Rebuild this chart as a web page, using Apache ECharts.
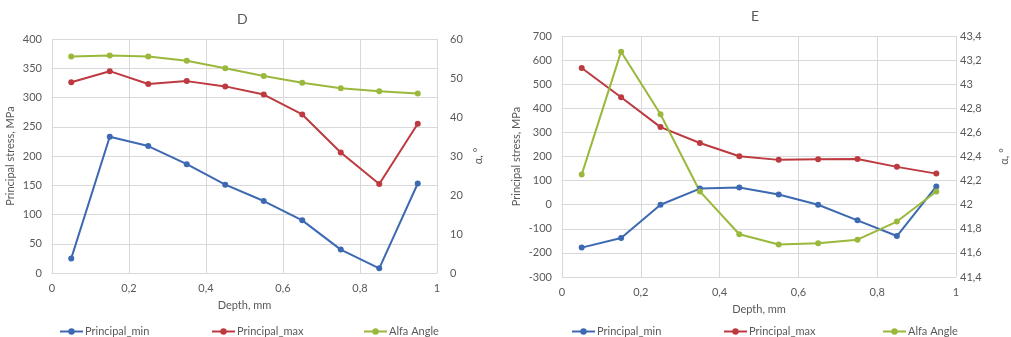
<!DOCTYPE html>
<html>
<head>
<meta charset="utf-8">
<script src="https://cdn.jsdelivr.net/npm/echarts@6/dist/echarts.min.js"></script>
<style>
  html, body { margin: 0; padding: 0; background: #fff; }
  #chart { width: 1011px; height: 337px; }
</style>
</head>
<body>
<div id="chart"></div>
<script>
// Depth positions of the measurement points, mm
const depth = [0.05, 0.15, 0.25, 0.35, 0.45, 0.55, 0.65, 0.75, 0.85, 0.95];

// Sample D
const dMin  = [25, 233, 217, 186, 151, 123, 90, 40, 8, 153];
const dMax  = [326, 345, 323, 328, 319, 305, 271, 206, 152, 255];
const dAlfa = [55.5, 55.8, 55.5, 54.4, 52.5, 50.5, 48.8, 47.4, 46.6, 46.0];

// Sample E
const eMin  = [-178, -138, 0, 67, 71, 42, 0, -65, -130, 76];
const eMax  = [567, 446, 322, 256, 201, 186, 189, 190, 157, 129];
const eAlfa = [42.25, 43.27, 42.75, 42.11, 41.755, 41.67, 41.68, 41.71, 41.86, 42.11];

// Axis ranges: [min, max, interval]
const depthRange  = [0, 1, 0.2];
const dStressRange = [0, 400, 50];
const dAngleRange  = [0, 60, 10];
const eStressRange = [-300, 700, 100];
const eAngleRange  = [41.4, 43.4, 0.2];

const seriesNames = ['Principal_min', 'Principal_max', 'Alfa Angle'];
const colors = ['#3C69B2', '#BC3A40', '#9AB83C'];

const FONT = 'Lato, "Open Sans", sans-serif';
const TXT = '#595959';
const GRID = '#D9D9D9';

const comma = v => String(Math.round(v * 1000) / 1000).replace('.', ',');
const pairs = vals => vals.map((v, i) => [depth[i], v]);

function xAxis(gridIndex) {
  return {
    type: 'value', gridIndex,
    min: depthRange[0], max: depthRange[1], interval: depthRange[2],
    name: 'Depth, mm', nameLocation: 'middle', nameGap: 27,
    nameTextStyle: { color: TXT, fontSize: 11, fontFamily: FONT },
    axisLine: { show: true, lineStyle: { color: GRID } },
    axisTick: { show: false },
    axisLabel: { color: TXT, fontSize: 11, fontFamily: FONT, margin: 10, formatter: comma },
    splitLine: { show: true, lineStyle: { color: GRID, width: 1 } }
  };
}

function yAxis(gridIndex, range, opts) {
  return Object.assign({
    type: 'value', gridIndex,
    min: range[0], max: range[1], interval: range[2],
    nameLocation: 'middle', nameRotate: 90,
    nameTextStyle: { color: TXT, fontSize: 11, fontFamily: FONT },
    axisLine: { show: false },
    axisTick: { show: false },
    axisLabel: { color: TXT, fontSize: 11, fontFamily: FONT, formatter: comma },
    splitLine: { show: false }
  }, opts);
}

function line(name, data, xi, yi) {
  const c = colors[seriesNames.indexOf(name)];
  return {
    type: 'line', name, data: pairs(data),
    xAxisIndex: xi, yAxisIndex: yi,
    symbol: 'circle', symbolSize: 6,
    lineStyle: { color: c, width: 2 },
    itemStyle: { color: c },
    emphasis: { disabled: true },
    animation: false
  };
}

function legend(name, left) {
  return {
    data: [name], left, top: 321, itemWidth: 23, itemHeight: 8, itemGap: 2,
    textStyle: { color: TXT, fontSize: 11, fontFamily: FONT, padding: [0, 0, 0, -3] }
  };
}

const chart = echarts.init(document.getElementById('chart'), null, { renderer: 'canvas' });
chart.setOption({
  backgroundColor: '#ffffff',
  title: [
    { text: 'D', left: 232, top: 7, textStyle: { color: TXT, fontSize: 14, fontWeight: 'normal', fontFamily: FONT } },
    { text: 'E', left: 746, top: 4, textStyle: { color: TXT, fontSize: 14, fontWeight: 'normal', fontFamily: FONT } }
  ],
  legend: [
    legend('Principal_min', 54), legend('Principal_max', 206), legend('Alfa Angle', 358),
    legend('Principal_min', 566), legend('Principal_max', 718), legend('Alfa Angle', 877)
  ],
  grid: [
    { left: 52, top: 39, width: 385, height: 234 },
    { left: 562, top: 36, width: 395, height: 241 }
  ],
  xAxis: [xAxis(0), xAxis(1)],
  yAxis: [
    yAxis(0, dStressRange, {
      name: 'Principal stress, MPa', nameGap: 36, position: 'left',
      splitLine: { show: true, lineStyle: { color: GRID, width: 1 } },
      axisLabel: { color: TXT, fontSize: 11, fontFamily: FONT, margin: 10, formatter: comma }
    }),
    yAxis(0, dAngleRange, {
      name: 'α, °', nameGap: 36, position: 'right',
      axisLabel: { color: TXT, fontSize: 11, fontFamily: FONT, margin: 13, formatter: comma }
    }),
    yAxis(1, eStressRange, {
      name: 'Principal stress, MPa', nameGap: 40, position: 'left',
      splitLine: { show: true, lineStyle: { color: GRID, width: 1 } },
      axisLabel: { color: TXT, fontSize: 11, fontFamily: FONT, margin: 10, formatter: comma }
    }),
    yAxis(1, eAngleRange, {
      name: 'α, °', nameGap: 43, position: 'right',
      axisLabel: { color: TXT, fontSize: 11, fontFamily: FONT, margin: 4, formatter: comma }
    })
  ],
  series: [
    line('Principal_min', dMin, 0, 0),
    line('Principal_max', dMax, 0, 0),
    line('Alfa Angle', dAlfa, 0, 1),
    line('Principal_min', eMin, 1, 2),
    line('Principal_max', eMax, 1, 2),
    line('Alfa Angle', eAlfa, 1, 3)
  ]
});
</script>
</body>
</html>
